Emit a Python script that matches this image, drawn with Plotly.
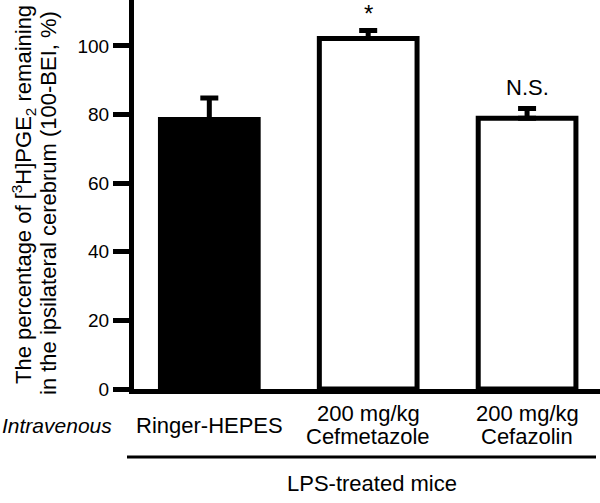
import plotly.graph_objects as go

# ---- data ----
categories = ["Ringer-HEPES", "200 mg/kg\nCefmetazole", "200 mg/kg\nCefazolin"]
values = [78.6, 102.2, 78.9]
errors = [6.2, 2.3, 2.9]
bar_colors = ["black", "white", "white"]
marks = ["", "*", "N.S."]
y_ticks = [0, 20, 40, 60, 80, 100]
y_title_lines = ["The percentage of [<sup>3</sup>H]PGE<sub>2</sub> remaining",
                 "in the ipsilateral cerebrum (100-BEI, %)"]
group_label = "LPS-treated mice"
route_label = "<i>Intravenous</i>"

W, H = 600, 503
L, R, T, B = 134, 0, 0, 114
PW, PH = W - L - R, H - T - B
FONT = "Liberation Sans, Arial, sans-serif"

def px_x(px):
    return (px - L) / PW

def px_y(py):
    return (H - B - py) / PH

xs = list(range(len(categories)))

fig = go.Figure()
fig.add_trace(go.Bar(
    x=xs, y=values, width=0.615,
    marker=dict(color=bar_colors, line=dict(color="black", width=5)),
    error_y=dict(type="data", array=errors, arrayminus=[0] * len(errors),
                 symmetric=False, color="black", thickness=5, width=9),
    showlegend=False, hoverinfo="skip",
))

ann = []
# significance marks
for i, (v, e, m) in enumerate(zip(values, errors, marks)):
    if m:
        ann.append(dict(x=i, y=v + e, xref="x", yref="y", text=m, showarrow=False,
                        yanchor="bottom", yshift=6 if m != "*" else 2,
                        font=dict(size=22 if m != "*" else 24, family=FONT, color="black")))
# category labels (one annotation per line)
for i, lab in enumerate(categories):
    lines = lab.split("\n")
    n = len(lines)
    for k, ln in enumerate(lines):
        cy = 425 + (k - (n - 1) / 2) * 24
        ann.append(dict(x=i, y=px_y(cy), xref="x", yref="paper", text=ln, showarrow=False,
                        xanchor="center", yanchor="middle",
                        font=dict(size=22, family=FONT, color="black")))
ann.append(dict(x=px_x(114), y=px_y(425), xref="paper", yref="paper", text=route_label,
                showarrow=False, xanchor="right", yanchor="middle",
                font=dict(size=21, family=FONT, color="black")))
ann.append(dict(x=px_x(372), y=px_y(483), xref="paper", yref="paper", text=group_label,
                showarrow=False, xanchor="center", yanchor="middle",
                font=dict(size=22, family=FONT, color="black")))
# y-axis title lines
for cx, cy, t in [(24, 195, y_title_lines[0]), (49, 203, y_title_lines[1])]:
    ann.append(dict(x=px_x(cx), y=px_y(cy), xref="paper", yref="paper", text=t,
                    showarrow=False, textangle=-90, xanchor="center", yanchor="middle",
                    font=dict(size=22, family=FONT, color="black")))

fig.update_layout(
    width=W, height=H,
    margin=dict(l=L, r=R, t=T, b=B, pad=0),
    paper_bgcolor="white", plot_bgcolor="white",
    annotations=ann,
    shapes=[dict(type="line", xref="paper", yref="paper",
                 x0=px_x(127), x1=px_x(596), y0=px_y(457), y1=px_y(457),
                 line=dict(color="black", width=3))],
    xaxis=dict(range=[-0.474, 2.459], showticklabels=False, ticks="",
               showline=True, linecolor="black", linewidth=5,
               showgrid=False, zeroline=False, fixedrange=True),
    yaxis=dict(range=[0, 113.4], tickvals=y_ticks, ticks="outside", ticklen=16,
               tickwidth=5, tickcolor="black", showline=True, linecolor="black",
               linewidth=5, showgrid=False, zeroline=False, fixedrange=True,
               tickfont=dict(size=19, family=FONT, color="black")),
)

fig.write_html("out.html", config={"displayModeBar": False},
               post_script="document.body.style.margin='0';document.body.style.overflow='hidden';")
